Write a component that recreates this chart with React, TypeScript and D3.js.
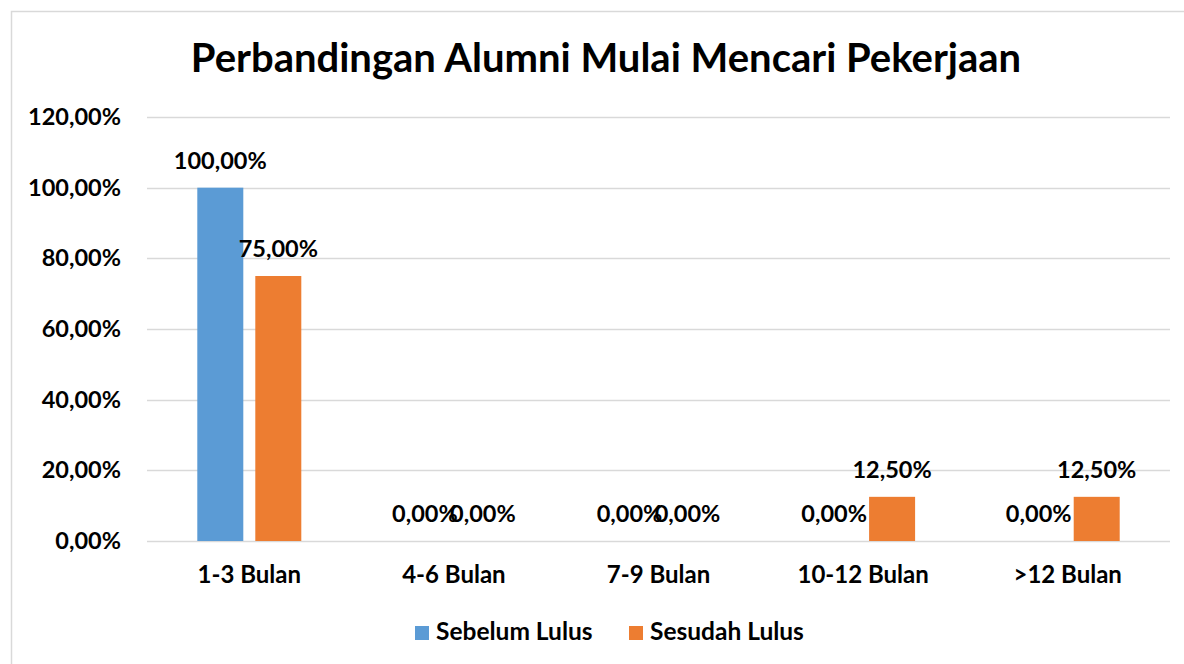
import React from "react";
import * as d3 from "d3";

const categories = ["1-3 Bulan", "4-6 Bulan", "7-9 Bulan", "10-12 Bulan", ">12 Bulan"];
const seriesNames = ["Sebelum Lulus", "Sesudah Lulus"];
const sebelumLulus = [100, 0, 0, 0, 0];
const sesudahLulus = [75, 0, 0, 12.5, 12.5];
const yTicks = [0, 20, 40, 60, 80, 100, 120];
const colors = ["#5B9BD5", "#ED7D31"];
const title = "Perbandingan Alumni Mulai Mencari Pekerjaan";

const W = 1184;
const H = 664;
const FONT = "Lato, 'Open Sans', sans-serif";

const fmt = (v: number) => v.toFixed(2).replace(".", ",") + "%";

export default function App() {
  const x = d3.scaleBand<string>().domain(categories).range([147, 1170]).paddingInner(0).paddingOuter(0);
  const bw = x.bandwidth();
  const groupW = 104;
  const xs = d3
    .scaleBand<string>()
    .domain(seriesNames)
    .range([(bw - groupW) / 2, (bw + groupW) / 2])
    .paddingInner(12 / 58)
    .paddingOuter(0);
  const y = d3.scaleLinear().domain([0, 120]).range([541, 117]);
  const data = [sebelumLulus, sesudahLulus];

  return (
    <svg
      width={W}
      height={H}
      style={{ position: "fixed", left: 0, top: 0, background: "#fff" }}
      fontFamily={FONT}
    >
      <rect x={0} y={0} width={W} height={H} fill="#fff" />
      <rect x={11.5} y={11.5} width={1240} height={700} fill="none" stroke="#D9D9D9" strokeWidth={1.5} />
      <text x={606} y={72} textAnchor="middle" fontSize={40} fontWeight={700} fill="#000">
        {title}
      </text>
      {yTicks.map((t) => (
        <g key={t}>
          <line x1={147} x2={1170} y1={Math.round(y(t)) + 0.5} y2={Math.round(y(t)) + 0.5} stroke="#D9D9D9" strokeWidth={1.5} />
          <text x={121} y={y(t) + 8} textAnchor="end" fontSize={23.5} fontWeight={700} fill="#000">
            {fmt(t)}
          </text>
        </g>
      ))}
      {categories.map((c, i) => (
        <g key={c} transform={`translate(${x(c)},0)`}>
          {seriesNames.map((s, j) => {
            const v = data[j][i];
            const bx = xs(s)!;
            return (
              <g key={s}>
                {v > 0 && (
                  <rect x={bx} y={y(v)} width={xs.bandwidth()} height={y(0) - y(v)} fill={colors[j]} />
                )}
                <text
                  x={bx + xs.bandwidth() / 2}
                  y={y(v) - 19}
                  textAnchor="middle"
                  fontSize={23.5}
                  fontWeight={700}
                  fill="#000"
                >
                  {fmt(v)}
                </text>
              </g>
            );
          })}
          <text x={bw / 2} y={583} textAnchor="middle" fontSize={24} fontWeight={700} fill="#000">
            {c}
          </text>
        </g>
      ))}
      {seriesNames.map((s, j) => {
        const lx = j === 0 ? 415 : 629;
        return (
          <g key={s}>
            <rect x={lx} y={626} width={14} height={14} fill={colors[j]} />
            <text x={lx + 21} y={640} fontSize={24.5} fontWeight={700} fill="#000">
              {s}
            </text>
          </g>
        );
      })}
    </svg>
  );
}
